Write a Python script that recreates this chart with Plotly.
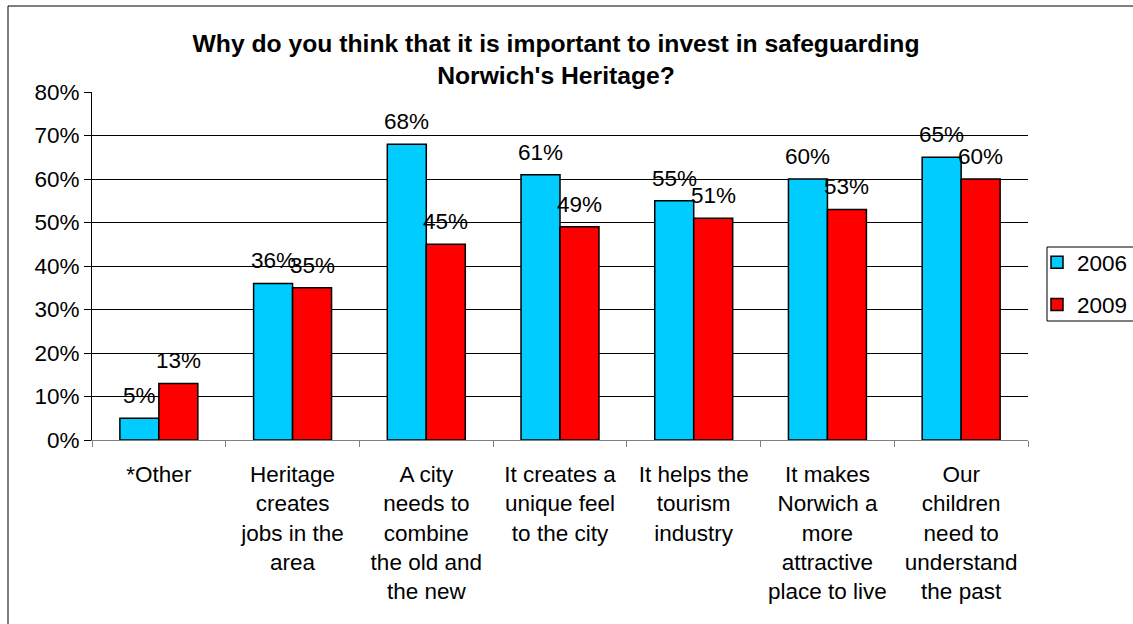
import plotly.graph_objects as go

# Survey responses: reasons for investing in Norwich's heritage
categories = [
    "*Other",
    "Heritage<br>creates<br>jobs in the<br>area",
    "A city<br>needs to<br>combine<br>the old and<br>the new",
    "It creates a<br>unique feel<br>to the city",
    "It helps the<br>tourism<br>industry",
    "It makes<br>Norwich a<br>more<br>attractive<br>place to live",
    "Our<br>children<br>need to<br>understand<br>the past",
]
values_2006 = [5, 36, 68, 61, 55, 60, 65]
values_2009 = [13, 35, 45, 49, 51, 53, 60]
series_names = ["2006", "2009"]
series_colors = ["#00CCFF", "#FF0000"]
y_ticks = [0, 10, 20, 30, 40, 50, 60, 70, 80]
y_tick_labels = [f"{v}%" for v in y_ticks]

W, H = 1133, 624
L, R, T, B = 92, 105, 92, 184
plot_w = W - L - R
plot_h = H - T - B

FONT = "Liberation Sans, Arial, sans-serif"


def px_x(px):
    return (px - L) / plot_w


def px_y(py):
    return (H - B - py) / plot_h


fig = go.Figure()
for name, vals, col in zip(series_names, [values_2006, values_2009], series_colors):
    fig.add_trace(go.Bar(
        x=categories, y=vals, name=name,
        marker=dict(color=col, line=dict(color="black", width=1.5)),
        legendgroup=name,
        hoverinfo="skip",
    ))

# Value labels centred over each bar
bargap = 0.417
cat_px = plot_w / len(categories)
bar_px = cat_px * (1 - bargap) / 2
annotations = []
for i, vals in enumerate([values_2006, values_2009]):
    shift = (-0.5 if i == 0 else 0.5) * bar_px
    for c, v in zip(categories, vals):
        annotations.append(dict(
            x=c, y=v, xref="x", yref="y", text=f"{v}%",
            showarrow=False, xanchor="center", yanchor="bottom",
            xshift=shift, yshift=8,
            font=dict(family=FONT, size=22.5, color="black"),
        ))

fig.update_layout(
    width=W, height=H,
    margin=dict(l=L, r=R, t=T, b=B, autoexpand=False),
    paper_bgcolor="white", plot_bgcolor="white",
    barmode="group", bargap=bargap, bargroupgap=0,
    font=dict(family=FONT, size=22.5, color="black"),
    title=dict(
        text="<b>Why do you think that it is important to invest in safeguarding<br>Norwich's Heritage?</b>",
        x=556 / W, xanchor="center", y=1 - 52 / H, yanchor="top",
        font=dict(family=FONT, size=24.7, color="black"),
    ),
    xaxis=dict(
        showline=True, linecolor="#808080", linewidth=1,
        ticks="outside", tickson="boundaries", ticklen=6, tickcolor="#808080",
        tickfont=dict(family=FONT, size=22.5, color="black"),
        ticklabelstandoff=14,
        showgrid=False,
    ),
    yaxis=dict(
        range=[0, 80], tickvals=y_ticks, ticktext=y_tick_labels,
        showline=True, linecolor="black", linewidth=1,
        ticks="outside", ticklen=7, tickcolor="black",
        showgrid=True, gridcolor="black", gridwidth=1,
        zeroline=False,
        tickfont=dict(family=FONT, size=22.5, color="black"),
    ),
    legend=dict(
        x=px_x(1037), xanchor="left",
        y=px_y(241), yanchor="top",
        borderwidth=0, bgcolor="rgba(0,0,0,0)",
        font=dict(family=FONT, size=22.5, color="black"),
        traceorder="grouped", tracegroupgap=10,
        itemclick=False, itemdoubleclick=False,
    ),
    annotations=annotations,
    shapes=[
        # outer chart frame
        dict(
            type="rect", xref="paper", yref="paper",
            x0=px_x(8), x1=px_x(W + 20), y0=px_y(H + 20), y1=px_y(6),
            line=dict(color="black", width=1), fillcolor="rgba(0,0,0,0)", layer="below",
        ),
        # legend frame
        dict(
            type="rect", xref="paper", yref="paper",
            x0=px_x(1047), x1=px_x(W + 20), y0=px_y(321), y1=px_y(247),
            line=dict(color="black", width=1), fillcolor="rgba(0,0,0,0)", layer="below",
        ),
    ],
)

fig.write_html("out.html", config={"displayModeBar": False})
